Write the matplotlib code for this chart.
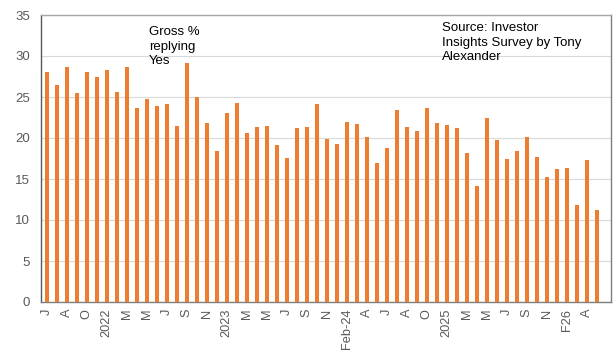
import matplotlib
matplotlib.use("Agg")
import matplotlib.pyplot as plt
import numpy as np

plt.rcParams['font.family'] = ['Liberation Sans', 'DejaVu Sans']

# % of investors replying "Yes", one bar per survey
gross_yes = [28.0, 26.5, 28.6, 25.5, 28.1, 27.4, 28.3, 25.6, 28.7, 23.7,
             24.7, 23.9, 24.2, 21.5, 29.2, 25.0, 21.8, 18.4, 23.0, 24.3,
             20.6, 21.3, 21.5, 19.1, 17.6, 21.2, 21.3, 24.1, 19.9, 19.3,
             21.9, 21.7, 20.1, 17.0, 18.8, 23.4, 21.3, 20.9, 23.6, 21.8,
             21.6, 21.2, 18.2, 14.2, 22.4, 19.7, 17.4, 18.4, 20.1, 17.7,
             15.3, 16.2, 16.4, 11.8, 17.3, 11.2]

# labels shown on every second survey
tick_labels = ['J', 'A', 'O', '2022', 'M', 'M', 'J', 'S', 'N', '2023',
               'M', 'M', 'J', 'S', 'N', 'Feb-24', 'A', 'J', 'A', 'O',
               '2025', 'M', 'M', 'J', 'S', 'N', 'F26', 'A']

orange = '#ED7D31'
grey_txt = '#595959'

fig = plt.figure(figsize=(6.14, 3.53), dpi=100)
ax = fig.add_axes([41 / 614, 1 - 302 / 353, 570 / 614, 287 / 353])

x = np.arange(len(gross_yes))
ax.bar(x, gross_yes, width=0.37, color=orange, zorder=3)

ax.set_xlim(-0.57, len(gross_yes) + 0.43)
ax.set_ylim(0, 35)
ax.set_yticks(range(0, 36, 5))
ax.yaxis.grid(True, color='#D9D9D9', linewidth=0.8, zorder=0)

ax.set_xticks(x[::2])
ax.set_xticklabels(tick_labels, rotation=90, fontsize=9.2, color=grey_txt)
ax.tick_params(axis='y', labelsize=9.5, labelcolor=grey_txt, length=0, pad=8)
ax.tick_params(axis='x', length=0, pad=5)

ax.spines['top'].set_color('#A6A6A6')
ax.spines['right'].set_color('#7F7F7F')
ax.spines['left'].set_color('#595959')
ax.spines['bottom'].set_color('#7F7F7F')
for s in ax.spines.values():
    s.set_linewidth(1.0)

ax.text(149 / 614, 1 - 26 / 353, 'Gross %\nreplying\nYes', transform=fig.transFigure,
        fontsize=9.5, va='top', ha='left', linespacing=1.3)
ax.text(442 / 614, 1 - 22 / 353, 'Source: Investor\nInsights Survey by Tony\nAlexander',
        transform=fig.transFigure, fontsize=9.5, va='top', ha='left', linespacing=1.3)

fig.savefig('out.png', dpi=100)
